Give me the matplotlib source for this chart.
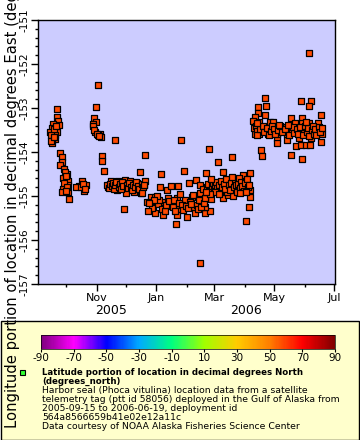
import matplotlib
matplotlib.use("Agg")
import matplotlib.pyplot as plt
import matplotlib.dates as mdates
import matplotlib.colors as mcolors
import matplotlib.patches as mpatches
import matplotlib.transforms as mtransforms
import numpy as np
import pandas as pd

plt.rcParams["axes.unicode_minus"] = False

# --- data (date, longitude in degrees East) ---
dates_sep = ["2005-09-22", "2005-09-22", "2005-09-23", "2005-09-24", "2005-09-18", "2005-09-17",
             "2005-09-22", "2005-09-20", "2005-09-18", "2005-09-20", "2005-09-17", "2005-09-15",
             "2005-09-16", "2005-09-19", "2005-09-21", "2005-09-16", "2005-09-19",
             "2005-09-25", "2005-09-27", "2005-09-27", "2005-09-25", "2005-09-29", "2005-10-02",
             "2005-09-28", "2005-10-03", "2005-10-03", "2005-09-28", "2005-10-03", "2005-09-27",
             "2005-10-04", "2005-09-30", "2005-10-01", "2005-09-29", "2005-10-02", "2005-10-01",
             "2005-10-17", "2005-10-21", "2005-10-14", "2005-10-19", "2005-10-11", "2005-10-16",
             "2005-10-18", "2005-10-20"]
lons_sep = [-153.02, -153.21, -153.29, -153.38, -153.36, -153.46,
            -153.54, -153.61, -153.71, -153.71, -153.79, -153.55,
            -153.62, -153.48, -153.40, -153.75, -153.66,
            -154.02, -154.11, -154.22, -154.30, -154.38, -154.49,
            -154.60, -154.66, -154.75, -154.83, -154.92, -154.92,
            -155.06, -154.45, -154.55, -154.70, -154.80, -154.88,
            -154.65, -154.74, -154.77, -154.88, -154.79, -154.80,
            -154.72, -154.84]

dates_nov = ["2005-10-31", "2005-11-02", "2005-10-29", "2005-10-31", "2005-10-28", "2005-10-30",
             "2005-11-04", "2005-11-06", "2005-11-02", "2005-10-28", "2005-10-29", "2005-11-01",
             "2005-11-03", "2005-11-20", "2005-11-07", "2005-11-07", "2005-11-09", "2005-11-29",
             "2005-11-16", "2005-11-23", "2005-11-30", "2005-12-05", "2005-12-12", "2005-12-19",
             "2005-11-13", "2005-11-22", "2005-12-01", "2005-12-09", "2005-12-16", "2005-12-15",
             "2005-12-20", "2005-11-12", "2005-11-14", "2005-11-15", "2005-11-17", "2005-11-18",
             "2005-11-19", "2005-11-20", "2005-11-21", "2005-11-24", "2005-11-25", "2005-11-26",
             "2005-11-27", "2005-11-28", "2005-12-02", "2005-12-03", "2005-12-04", "2005-12-06",
             "2005-12-07", "2005-12-08", "2005-12-10", "2005-12-11", "2005-12-13", "2005-12-14",
             "2005-12-17", "2005-12-18"]
lons_nov = [-152.97, -152.47, -153.23, -153.32, -153.36, -153.54,
            -153.58, -153.67, -153.61, -153.42, -153.50, -153.58,
            -153.63, -153.72, -154.09, -154.20, -154.43, -155.29,
            -154.67, -154.66, -154.64, -154.67, -154.71, -154.75,
            -154.79, -154.86, -154.94, -154.92, -154.94, -154.45,
            -154.06, -154.75, -154.82, -154.72, -154.78, -154.70,
            -154.84, -154.76, -154.69, -154.80, -154.73, -154.85,
            -154.68, -154.78, -154.75, -154.82, -154.70, -154.79,
            -154.86, -154.74, -154.80, -154.68, -154.77, -154.84,
            -154.72, -154.80]

dates_jan = ["2005-12-20", "2005-12-19", "2005-12-17", "2005-12-26", "2005-12-31", "2005-12-22",
             "2005-12-29", "2005-12-31", "2006-01-08", "2006-01-09", "2006-01-05", "2006-01-06",
             "2006-01-12", "2006-01-13", "2006-01-13", "2006-01-16", "2006-01-23", "2006-01-22",
             "2006-01-23", "2006-01-22", "2006-02-01", "2006-01-30", "2006-02-06", "2006-02-08",
             "2006-02-09", "2006-02-04", "2006-02-03", "2006-02-10", "2006-02-14", "2006-02-14",
             "2006-02-19", "2006-02-25", "2006-02-16", "2006-02-26", "2006-02-19", "2006-01-26",
             "2006-01-29", "2006-01-21", "2006-02-14", "2006-02-24", "2006-02-21", "2006-03-05",
             "2006-03-10", "2006-03-19", "2006-01-03", "2006-01-04", "2006-01-07", "2006-01-10",
             "2006-01-11", "2006-01-14", "2006-01-18", "2006-01-19", "2006-01-20", "2006-01-24",
             "2006-01-25", "2006-01-27", "2006-01-28", "2006-01-31", "2006-02-02", "2006-02-05",
             "2006-02-07", "2006-02-11", "2006-02-12", "2006-02-13", "2006-02-15", "2006-02-17",
             "2006-02-18", "2006-02-20", "2006-01-02", "2005-12-30", "2005-12-27", "2005-12-24",
             "2005-12-23"]
lons_jan = [-154.67, -154.75, -154.94, -155.02, -155.02, -155.13,
            -155.24, -155.39, -155.43, -155.13, -154.80, -154.49,
            -154.86, -155.05, -155.23, -154.77, -154.77, -155.05,
            -155.30, -155.43, -155.47, -155.09, -155.02, -155.26,
            -155.39, -155.13, -154.70, -154.64, -154.75, -154.94,
            -155.39, -155.34, -155.09, -155.07, -155.24, -153.73,
            -154.43, -155.63, -156.52, -153.93, -154.47, -154.23,
            -154.45, -154.11, -155.18, -155.08, -155.30, -155.35,
            -155.20, -155.12, -155.25, -155.10, -155.35, -155.15,
            -154.95, -155.20, -155.32, -155.22, -155.28, -155.18,
            -154.98, -155.20, -155.30, -155.08, -155.25, -154.85,
            -155.15, -155.05, -155.00, -155.10, -155.28, -155.15,
            -155.35]

dates_mar = ["2006-03-10", "2006-03-15", "2006-03-20", "2006-03-14", "2006-03-30", "2006-04-06",
             "2006-04-06", "2006-04-06", "2006-04-02", "2006-04-05", "2006-02-22", "2006-02-23",
             "2006-02-24", "2006-02-27", "2006-02-28", "2006-03-01", "2006-03-02", "2006-03-03",
             "2006-03-04", "2006-03-06", "2006-03-07", "2006-03-08", "2006-03-09", "2006-03-11",
             "2006-03-12", "2006-03-13", "2006-03-16", "2006-03-17", "2006-03-18", "2006-03-21",
             "2006-03-22", "2006-03-23", "2006-03-24", "2006-03-25", "2006-03-26", "2006-03-27",
             "2006-03-28", "2006-03-29", "2006-03-31", "2006-04-01", "2006-04-03", "2006-04-04",
             "2006-04-05", "2006-03-02", "2006-03-06", "2006-02-25", "2006-03-19", "2006-03-27",
             "2006-04-02", "2006-02-21", "2006-02-26"]
lons_mar = [-155.05, -154.98, -155.00, -154.90, -154.52, -154.48,
            -154.86, -155.02, -155.56, -155.24, -154.80, -154.72,
            -154.88, -154.78, -154.70, -154.85, -154.76, -154.68,
            -154.82, -154.74, -154.88, -154.66, -154.79, -154.72,
            -154.84, -154.62, -154.75, -154.86, -154.70, -154.80,
            -154.65, -154.76, -154.90, -154.72, -154.60, -154.82,
            -154.68, -154.78, -154.88, -154.70, -154.62, -154.80,
            -154.74, -154.92, -154.95, -154.95, -154.56, -154.94,
            -154.92, -154.90, -154.62]

dates_may = ["2006-04-22", "2006-04-15", "2006-04-23", "2006-05-28", "2006-06-08", "2006-06-05",
             "2006-06-05", "2006-04-15", "2006-04-22", "2006-04-11", "2006-04-09", "2006-06-18",
             "2006-04-16", "2006-04-27", "2006-04-30", "2006-05-18", "2006-05-29", "2006-04-11",
             "2006-04-16", "2006-04-25", "2006-05-04", "2006-05-04", "2006-05-14", "2006-05-26",
             "2006-06-08", "2006-06-18", "2006-05-23", "2006-05-28", "2006-06-02", "2006-06-07",
             "2006-04-18", "2006-04-19", "2006-05-18", "2006-05-29", "2006-04-27", "2006-05-11",
             "2006-05-14", "2006-05-04", "2006-05-19", "2006-05-31", "2006-06-07", "2006-06-14",
             "2006-06-19", "2006-06-05", "2006-06-15", "2006-05-29", "2006-05-22", "2006-04-10",
             "2006-04-12", "2006-04-13", "2006-04-14", "2006-04-17", "2006-04-20", "2006-04-21",
             "2006-04-24", "2006-04-26", "2006-04-28", "2006-04-29", "2006-05-01", "2006-05-02",
             "2006-05-05", "2006-05-07", "2006-05-09", "2006-05-12", "2006-05-16", "2006-05-20",
             "2006-05-21", "2006-05-24", "2006-05-25", "2006-05-27", "2006-05-30", "2006-06-01",
             "2006-06-03", "2006-06-04", "2006-06-06", "2006-06-09", "2006-06-10", "2006-06-11",
             "2006-06-12", "2006-06-13", "2006-06-16", "2006-06-17", "2006-06-19", "2006-04-13",
             "2006-05-06", "2006-05-15", "2006-06-02"]
lons_may = [-152.77, -152.97, -152.95, -152.83, -152.83, -152.95,
            -151.74, -153.12, -153.17, -153.21, -153.29, -153.17,
            -153.31, -153.31, -153.31, -153.22, -153.22, -153.58,
            -153.58, -153.58, -153.69, -153.79, -153.73, -153.69,
            -153.69, -153.77, -153.86, -153.84, -153.84, -153.83,
            -153.95, -154.08, -154.06, -154.15, -153.46, -153.43,
            -153.58, -153.58, -153.50, -153.50, -153.58, -153.50,
            -153.58, -153.35, -153.35, -153.35, -153.35, -153.45,
            -153.40, -153.52, -153.62, -153.48, -153.40, -153.55,
            -153.45, -153.62, -153.52, -153.42, -153.48, -153.60,
            -153.50, -153.42, -153.55, -153.48, -153.62, -153.44,
            -153.56, -153.48, -153.60, -153.44, -153.62, -153.40,
            -153.55, -153.46, -153.64, -153.50, -153.42, -153.58,
            -153.47, -153.62, -153.44, -153.55, -153.45, -153.35,
            -153.38, -153.38, -153.32]

cbar_ticks = [-90, -70, -50, -30, -10, 10, 30, 50, 70, 90]
cbar_colors = ["#7f007f", "#ff00ff", "#0000ff", "#00aaff", "#00ff80",
               "#a0ff00", "#ffcc00", "#ff7f00", "#ff0000", "#7f0000"]

legend_lines = [
    "Harbor seal (Phoca vitulina) location data from a satellite",
    "telemetry tag (ptt id 58056) deployed in the Gulf of Alaska from",
    "2005-09-15 to 2006-06-19, deployment id",
    "564a8566659b41e02e12a11c",
    "Data courtesy of NOAA Alaska Fisheries Science Center",
]

dates = pd.to_datetime(dates_sep + dates_nov + dates_jan + dates_mar + dates_may)
lons = np.array(lons_sep + lons_nov + lons_jan + lons_mar + lons_may)

W, H = 360, 440
fig = plt.figure(figsize=(W / 100, H / 100), dpi=100)

ax = fig.add_axes([37.7 / W, 1 - 284 / H, (335 - 37.7) / W, 264 / H])
ax.set_facecolor("#ccccff")
ax.scatter(dates, lons, marker="s", s=25, facecolor="#ff4a00",
           edgecolor="black", linewidth=0.9, zorder=3)

ax.set_xlim(pd.Timestamp("2005-09-02"), pd.Timestamp("2006-07-02"))
ax.set_ylim(-157, -151)
ax.yaxis.set_major_locator(plt.MultipleLocator(1))
ax.yaxis.set_minor_locator(plt.MultipleLocator(0.2))
ax.xaxis.set_major_locator(mdates.MonthLocator(bymonth=[1, 3, 5, 7, 9, 11]))
ax.xaxis.set_minor_locator(mdates.MonthLocator())
ax.xaxis.set_major_formatter(mdates.DateFormatter("%b"))
ax.tick_params(axis="both", which="major", length=5, width=1, direction="out")
ax.tick_params(axis="both", which="minor", length=2.5, width=1, direction="out")
ax.tick_params(axis="x", labelsize=8, pad=1.5)
ax.tick_params(axis="y", labelsize=7.5, pad=1)
for lab in ax.get_yticklabels():
    lab.set_rotation(90)
    lab.set_va("center")
for sp in ax.spines.values():
    sp.set_linewidth(1)

trans = mtransforms.blended_transform_factory(ax.transData, fig.transFigure)
ax.text(pd.Timestamp("2005-11-16"), 1 - 311 / H, "2005", transform=trans,
        ha="center", va="center", fontsize=9)
ax.text(pd.Timestamp("2006-04-02"), 1 - 311 / H, "2006", transform=trans,
        ha="center", va="center", fontsize=9)

fig.text(12.5 / W, 12 / H,
         "Longitude portion of location in decimal degrees East (degrees_east)",
         rotation=90, ha="center", va="bottom", fontsize=10.6)

# legend panel
box = mpatches.Rectangle((0.5 / W, 0.5 / H), (W - 1.5) / W, (440 - 321) / H,
                         transform=fig.transFigure, facecolor="#ffffcc",
                         edgecolor="black", linewidth=1, zorder=-1)
fig.patches.append(box)

cmap = mcolors.LinearSegmentedColormap.from_list(
    "rainbow_erd", list(zip(np.linspace(0, 1, len(cbar_colors)), cbar_colors)))
cax = fig.add_axes([41 / W, 1 - 349 / H, 294 / W, 14 / H])
sm = plt.cm.ScalarMappable(cmap=cmap, norm=mcolors.Normalize(-90, 90))
cb = fig.colorbar(sm, cax=cax, orientation="horizontal", ticks=cbar_ticks)
cb.outline.set_linewidth(0.5)
cax.tick_params(labelsize=7.5, length=2, pad=1)

fig.patches.append(mpatches.Rectangle((19.5 / W, 1 - 375 / H), 5 / W, 5 / H,
                                      transform=fig.transFigure, facecolor="#33ff33",
                                      edgecolor="black", linewidth=0.8))
fig.text(42.5 / W, 1 - 372 / H, "Latitude portion of location in decimal degrees North",
         fontsize=6.2, fontweight="bold", va="center")
fig.text(42.5 / W, 1 - 381 / H, "(degrees_north)",
         fontsize=6.2, fontweight="bold", va="center")
for i, line in enumerate(legend_lines):
    fig.text(42.5 / W, 1 - (390.5 + 9 * i) / H, line, fontsize=6.7, va="center")

fig.savefig("out.png", dpi=100)
